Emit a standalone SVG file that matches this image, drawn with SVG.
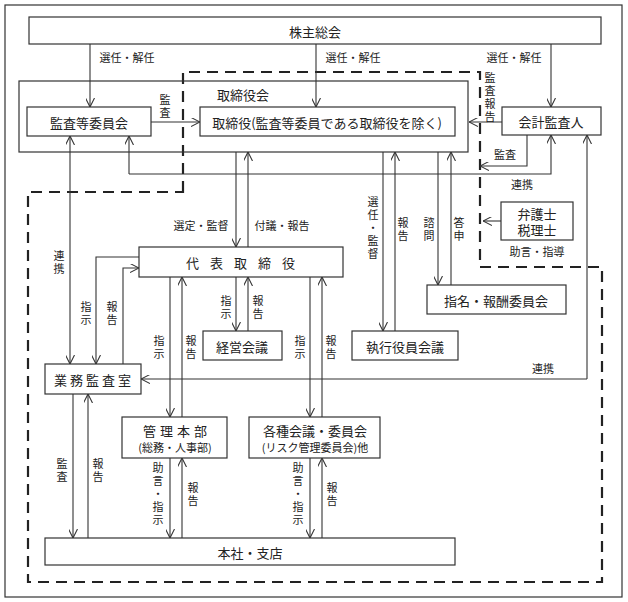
<svg xmlns="http://www.w3.org/2000/svg" width="628" height="602" viewBox="0 0 628 602">
<style>
.b{fill:#fff;stroke:#333;stroke-width:1.2}
.a{fill:none;stroke:#333;stroke-width:1.1;marker-end:url(#ar)}
.t{font-family:"Noto Sans CJK JP",sans-serif;font-size:13px;fill:#222;text-anchor:middle;dominant-baseline:central}
.s{font-family:"Noto Sans CJK JP",sans-serif;font-size:11px;fill:#222;text-anchor:middle;dominant-baseline:central}
</style>
<defs><marker id="ar" viewBox="0 0 10 10" refX="10" refY="5" markerWidth="9" markerHeight="9" markerUnits="userSpaceOnUse" orient="auto"><path d="M0,0 L10,5 L0,10" fill="none" stroke="#333" stroke-width="1.2"/></marker></defs>
<rect x="5" y="5" width="617" height="592" fill="#fff" stroke="#333" stroke-width="1.2"/>
<path d="M183,192 V72 H480 V267 H602 V582 H28 V192 Z" fill="none" stroke="#222" stroke-width="2.2" stroke-dasharray="11,7"/>
<g id="board"><rect x="19" y="81" width="449" height="71" fill="none" stroke="#333" stroke-width="1.2"/><text class="t" x="243" y="94">取締役会</text></g>
<g id="connectors">
<path class="a" d="M90,44 V107"/><path class="a" d="M316,44 V107"/><path class="a" d="M551,44 V107"/>
<path class="a" d="M151,122 H200"/><path class="a" d="M502,122 H469"/>
<path class="a" d="M129,174 V136"/><path class="a" d="M129,174 H551 V135"/>
<path class="a" d="M527,135 V166 H480"/><path class="a" d="M501,221 H483"/>
<path class="a" d="M587,379 V135"/><path class="a" d="M587,379 H141"/>
<path class="a" d="M236,152 V247"/><path class="a" d="M248,247 V152"/>
<path class="a" d="M383,152 V331"/><path class="a" d="M395,331 V152"/>
<path class="a" d="M438,152 V285"/><path class="a" d="M451,285 V152"/>
<path class="a" d="M70,250 V136"/><path class="a" d="M70,250 V364"/>
<path class="a" d="M139,257 H96 V364"/><path class="a" d="M123,364 V268 H139"/>
<path class="a" d="M170,277 V417"/><path class="a" d="M182,417 V277"/>
<path class="a" d="M236,277 V331"/><path class="a" d="M248,331 V277"/>
<path class="a" d="M310,277 V417"/><path class="a" d="M322,417 V277"/>
<path class="a" d="M73,394 V538"/><path class="a" d="M88,538 V394"/>
<path class="a" d="M170,458 V538"/><path class="a" d="M182,538 V458"/>
<path class="a" d="M310,458 V538"/><path class="a" d="M322,538 V458"/>
</g>
<g id="labels">
<text class="s" x="127" y="57">選任・解任</text><text class="s" x="353" y="57">選任・解任</text><text class="s" x="514" y="57">選任・解任</text>
<text class="s"><tspan x="165" y="99">監</tspan><tspan x="165" dy="13">査</tspan></text>
<text class="s"><tspan x="490" y="77">監</tspan><tspan x="490" dy="13">査</tspan><tspan x="490" dy="13">報</tspan><tspan x="490" dy="13">告</tspan></text>
<text class="s" x="505" y="154">監査</text><text class="s" x="522" y="184">連携</text>
<text class="s" x="537" y="251">助言・指導</text><text class="s" x="543" y="368">連携</text>
<text class="s" x="201" y="225">選定・監督</text><text class="s" x="282" y="225">付議・報告</text>
<text class="s"><tspan x="373" y="201">選</tspan><tspan x="373" dy="13">任</tspan><tspan x="373" dy="13">・</tspan><tspan x="373" dy="13">監</tspan><tspan x="373" dy="13">督</tspan></text>
<text class="s"><tspan x="403" y="222">報</tspan><tspan x="403" dy="13">告</tspan></text>
<text class="s"><tspan x="429" y="222">諮</tspan><tspan x="429" dy="13">問</tspan></text>
<text class="s"><tspan x="459" y="222">答</tspan><tspan x="459" dy="13">申</tspan></text>
<text class="s"><tspan x="59" y="255">連</tspan><tspan x="59" dy="13">携</tspan></text>
<text class="s"><tspan x="86" y="306">指</tspan><tspan x="86" dy="13">示</tspan></text>
<text class="s"><tspan x="112" y="306">報</tspan><tspan x="112" dy="13">告</tspan></text>
<text class="s"><tspan x="226" y="300">指</tspan><tspan x="226" dy="13">示</tspan></text>
<text class="s"><tspan x="258" y="300">報</tspan><tspan x="258" dy="13">告</tspan></text>
<text class="s"><tspan x="159" y="340">指</tspan><tspan x="159" dy="13">示</tspan></text>
<text class="s"><tspan x="191" y="340">報</tspan><tspan x="191" dy="13">告</tspan></text>
<text class="s"><tspan x="300" y="340">指</tspan><tspan x="300" dy="13">示</tspan></text>
<text class="s"><tspan x="331" y="340">報</tspan><tspan x="331" dy="13">告</tspan></text>
<text class="s"><tspan x="62" y="463">監</tspan><tspan x="62" dy="13">査</tspan></text>
<text class="s"><tspan x="98" y="463">報</tspan><tspan x="98" dy="13">告</tspan></text>
<text class="s"><tspan x="158" y="467">助</tspan><tspan x="158" dy="13">言</tspan><tspan x="158" dy="13">・</tspan><tspan x="158" dy="13">指</tspan><tspan x="158" dy="13">示</tspan></text>
<text class="s"><tspan x="193" y="487">報</tspan><tspan x="193" dy="13">告</tspan></text>
<text class="s"><tspan x="298" y="467">助</tspan><tspan x="298" dy="13">言</tspan><tspan x="298" dy="13">・</tspan><tspan x="298" dy="13">指</tspan><tspan x="298" dy="13">示</tspan></text>
<text class="s"><tspan x="332" y="487">報</tspan><tspan x="332" dy="13">告</tspan></text>
</g>
<g id="agm"><rect class="b" x="29" y="17" width="572" height="27"/><text class="t" x="315" y="31">株主総会</text></g>
<g id="audit-committee"><rect class="b" x="27" y="107" width="124" height="29"/><text class="t" x="89" y="122">監査等委員会</text></g>
<g id="directors"><rect class="b" x="200" y="107" width="255" height="29"/><text class="t" x="327" y="122">取締役(監査等委員である取締役を除く)</text></g>
<g id="accounting-auditor"><rect class="b" x="502" y="107" width="99" height="28"/><text class="t" x="551" y="121">会計監査人</text></g>
<g id="lawyer"><rect class="b" x="501" y="202" width="72" height="38"/><text class="t" x="537" y="213">弁護士</text><text class="t" x="537" y="229">税理士</text></g>
<g id="ceo"><rect class="b" x="139" y="247" width="204" height="30"/><text class="t" x="246" y="262" letter-spacing="11">代表取締役</text></g>
<g id="nomination"><rect class="b" x="427" y="285" width="139" height="29"/><text class="t" x="496" y="300">指名・報酬委員会</text></g>
<g id="management-meeting"><rect class="b" x="203" y="331" width="79" height="29"/><text class="t" x="242" y="346">経営会議</text></g>
<g id="exec-officers"><rect class="b" x="352" y="331" width="106" height="29"/><text class="t" x="405" y="346">執行役員会議</text></g>
<g id="internal-audit"><rect class="b" x="45" y="364" width="96" height="30"/><text class="t" x="94" y="379" letter-spacing="3">業務監査室</text></g>
<g id="admin"><rect class="b" x="122" y="417" width="105" height="41"/><text class="t" x="177" y="430" letter-spacing="4">管理本部</text><text class="s" x="175" y="447">(総務・人事部)</text></g>
<g id="committees"><rect class="b" x="249" y="417" width="131" height="41"/><text class="t" x="315" y="430">各種会議・委員会</text><text class="s" x="315" y="447">(リスク管理委員会)他</text></g>
<g id="branches"><rect class="b" x="45" y="538" width="410" height="27"/><text class="t" x="250" y="552">本社・支店</text></g>
</svg>
